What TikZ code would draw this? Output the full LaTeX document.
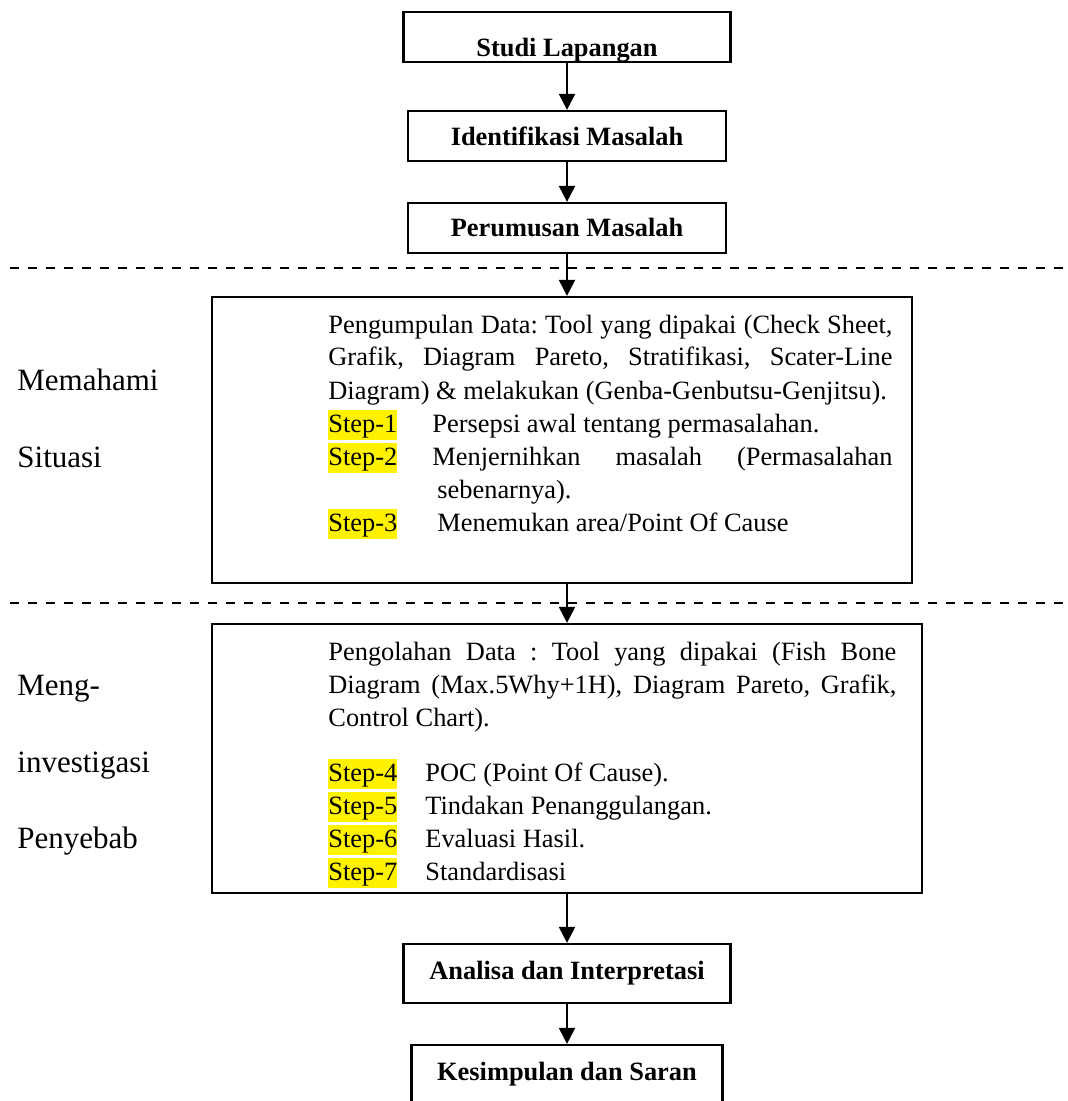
\documentclass[tikz,border=0pt]{standalone}
\usepackage{fontspec}
\setmainfont{Liberation Serif}[Ligatures=NoCommon]
\usepackage{xcolor}
\usetikzlibrary{arrows.meta}
\frenchspacing

% yellow marker behind the step names
\newcommand{\stepmark}[1]{{\setlength{\fboxsep}{0pt}\colorbox{yellow}{\rule[-4pt]{0pt}{15pt}#1}}}

\begin{document}
\begin{tikzpicture}[x=0.5pt, y=-0.5pt,
    box/.style={draw, line width=1.1pt, inner sep=0pt, font=\bfseries\fontsize{13.2pt}{16pt}\selectfont},
    bigbox/.style={draw, line width=1.1pt, inner sep=0pt},
    body/.style={anchor=base west, inner sep=0pt, align=justify, font=\fontsize{13.2pt}{16.5pt}\selectfont},
    side/.style={anchor=base west, inner sep=0pt, font=\fontsize{15.5pt}{18pt}\selectfont},
    arr/.style={-{Triangle[length=8pt,width=8pt]}, line width=1pt},
    sep/.style={dash pattern=on 4.5pt off 4.5pt, line width=1pt}]
    \useasboundingbox (0,0) rectangle (1067,1101);
    \clip (0,0) rectangle (1067,1101);

    % Draw the dashed separators
    \draw[sep] (10,268) -- (1067,268);
    \draw[sep] (10,603) -- (1067,603);

    % Top boxes
    \node[box, minimum width=163.5pt, minimum height=25pt, text height=20pt, text depth=0pt] (studi) at (567,37) {Studi Lapangan};
    \node[box, minimum width=159pt, minimum height=25pt] (identifikasi) at (567,136) {Identifikasi Masalah};
    \node[box, minimum width=159pt, minimum height=25pt] (perumusan) at (567,228) {Perumusan Masalah};

    % Memahami Situasi
    \node[bigbox, minimum width=350pt, minimum height=143pt] (pengumpulan) at (562,440) {};
    \node[body, text width=282pt] (pengumpulantxt) at (328,333) {%
        Pengumpulan Data: Tool yang dipakai (Check Sheet,\linebreak
        Grafik, Diagram Pareto, Stratifikasi, Scater-Line\linebreak
        Diagram) \& melakukan (Genba-Genbutsu-Genjitsu).\par
        \makebox[52pt][l]{\stepmark{Step-1}}Persepsi awal tentang permasalahan.\par
        \makebox[52pt][l]{\stepmark{Step-2}}Menjernihkan masalah (Permasalahan\linebreak
        sebenarnya).\hangindent=54.5pt\hangafter=1\par
        \makebox[54.5pt][l]{\stepmark{Step-3}}Menemukan area/Point Of Cause\par};
    \node[side] (lblmemahami) at (17,390) {Memahami};
    \node[side] (lblsituasi) at (17,467) {Situasi};

    % Menginvestigasi Penyebab
    \node[bigbox, minimum width=355pt, minimum height=134.5pt] (pengolahan) at (567,758.5) {};
    \node[body, text width=284pt] (pengolahantxt) at (328,660) {%
        Pengolahan Data : Tool yang dipakai (Fish Bone\linebreak
        Diagram (Max.5Why+1H), Diagram Pareto, Grafik,\linebreak
        Control Chart).\par\vspace{11pt}
        \makebox[48.5pt][l]{\stepmark{Step-4}}POC (Point Of Cause).\par
        \makebox[48.5pt][l]{\stepmark{Step-5}}Tindakan Penanggulangan.\par
        \makebox[48.5pt][l]{\stepmark{Step-6}}Evaluasi Hasil.\par
        \makebox[48.5pt][l]{\stepmark{Step-7}}Standardisasi\par};
    \node[side] (lblmeng) at (17,695) {Meng-};
    \node[side] (lblinvest) at (17,772) {investigasi};
    \node[side] (lblpenyebab) at (17,848) {Penyebab};

    % Bottom boxes
    \node[box, minimum width=163.5pt, minimum height=29.5pt] (analisa) at (567,973.5) {Analisa dan Interpretasi};
    \node[box, minimum width=155.5pt, minimum height=29.5pt] (kesimpulan) at (567,1074.5) {Kesimpulan dan Saran};

    % Arrows
    \draw[arr] (studi) -- (identifikasi);
    \draw[arr] (identifikasi) -- (perumusan);
    \draw[arr] (perumusan) -- (perumusan |- pengumpulan.north);
    \draw[arr] (pengumpulan.south -| perumusan) -- (pengolahan);
    \draw[arr] (pengolahan) -- (analisa);
    \draw[arr] (analisa) -- (kesimpulan);
\end{tikzpicture}
\end{document}
